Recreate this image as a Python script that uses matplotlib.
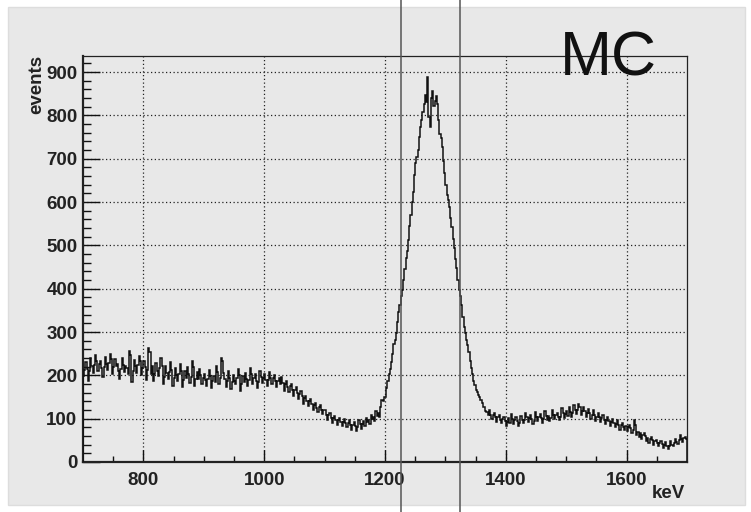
import numpy as np
import matplotlib
matplotlib.use("Agg")
import matplotlib.pyplot as plt
from matplotlib.patches import Rectangle
from matplotlib.lines import Line2D
import matplotlib.transforms as mtransforms

plt.rcParams['font.family'] = ['Liberation Sans', 'DejaVu Sans']

# histogram range, 2 keV bins
x_lo = 700
x_hi = 1700
bin_width = 2

# counts, 50 bins per 100 keV
counts_700 = [198, 212, 230, 214, 186, 210, 241, 221, 205, 223, 247, 233, 211, 227, 234, 218, 196, 220,
              243, 227, 213, 229, 250, 238, 204, 220, 237, 221, 226, 210, 191, 215, 239, 225, 208, 222,
              218, 202, 256, 247, 184, 210, 235, 221, 205, 223, 244, 232, 200, 218]
counts_800 = [232, 220, 190, 212, 262, 254, 203, 221, 186, 204, 228, 210, 198, 216, 239, 221, 180, 196,
              222, 206, 191, 207, 231, 213, 176, 194, 217, 201, 188, 204, 226, 210, 172, 190, 211, 195,
              220, 204, 183, 197, 233, 219, 176, 192, 207, 191, 214, 200, 181, 195]
counts_900 = [203, 189, 176, 192, 212, 198, 170, 186, 199, 185, 222, 208, 179, 193, 240, 232, 205, 191,
              174, 188, 209, 195, 168, 184, 201, 187, 181, 195, 214, 200, 165, 179, 198, 184, 206, 192,
              176, 190, 216, 202, 179, 193, 202, 188, 171, 185, 210, 196, 182, 194]
counts_1000 = [203, 189, 175, 189, 208, 194, 181, 195, 200, 186, 172, 186, 193, 179, 197, 183, 165, 179,
               188, 174, 161, 175, 181, 167, 153, 167, 173, 159, 146, 158, 164, 152, 135, 147, 153, 141,
               129, 141, 145, 133, 120, 132, 137, 125, 116, 128, 132, 120, 110, 120]
counts_1100 = [119, 109, 97, 109, 112, 102, 90, 102, 106, 96, 86, 98, 102, 92, 83, 93, 99, 89,
               80, 90, 96, 86, 75, 85, 92, 82, 71, 81, 97, 87, 77, 87, 94, 84, 102, 92,
               98, 88, 109, 99, 105, 95, 117, 107, 113, 103, 128, 144, 140, 150]
counts_1200 = [150, 170, 188, 204, 214, 230, 250, 272, 282, 298, 322, 346, 362, 382, 398, 420, 446, 470,
               488, 512, 545, 570, 600, 624, 662, 690, 704, 720, 750, 772, 790, 808, 826, 848, 830, 889,
               796, 772, 840, 856, 822, 834, 844, 826, 790, 756, 748, 728, 694, 668]
counts_1300 = [640, 616, 604, 588, 562, 542, 515, 495, 468, 448, 420, 396, 382, 362, 334, 312, 298, 282,
               270, 254, 234, 218, 202, 188, 178, 166, 162, 154, 150, 142, 137, 127, 126, 118, 116, 108,
               121, 109, 99, 109, 113, 103, 93, 103, 108, 96, 89, 99, 104, 94]
counts_1400 = [84, 92, 101, 91, 110, 100, 88, 96, 104, 94, 82, 90, 106, 96, 90, 98, 113, 103,
               93, 101, 109, 99, 87, 95, 116, 104, 95, 103, 111, 101, 91, 99, 118, 106, 97, 107,
               94, 102, 121, 109, 99, 109, 114, 104, 96, 104, 124, 112, 101, 111]
counts_1500 = [117, 107, 126, 116, 103, 113, 131, 121, 111, 121, 134, 126, 108, 118, 127, 117, 104, 114,
               123, 113, 99, 109, 119, 109, 95, 105, 113, 103, 92, 102, 108, 98, 87, 97, 104, 94,
               83, 93, 100, 90, 80, 88, 96, 86, 75, 85, 91, 81, 74, 82]
counts_1600 = [72, 80, 86, 78, 66, 74, 98, 86, 62, 70, 58, 66, 54, 62, 68, 60, 48, 56,
               45, 53, 58, 50, 40, 48, 51, 43, 37, 43, 49, 41, 33, 39, 46, 38, 31, 37,
               48, 40, 38, 44, 54, 46, 42, 50, 62, 54, 47, 55, 58, 52]

# window lines
window_keV = [1226, 1325]

x_ticks = [800, 1000, 1200, 1400, 1600]
y_ticks = [0, 100, 200, 300, 400, 500, 600, 700, 800, 900]

counts = np.array(counts_700 + counts_800 + counts_900 + counts_1000 + counts_1100
                  + counts_1200 + counts_1300 + counts_1400 + counts_1500 + counts_1600)
edges = np.linspace(x_lo, x_hi, len(counts) + 1)

bg = '#e8e8e8'
fig = plt.figure(figsize=(7.51, 5.12), dpi=100)
fig.patch.set_facecolor('white')
fig.add_artist(Rectangle((8 / 751, 7 / 512), 737 / 751, 498 / 512, transform=fig.transFigure,
                         facecolor=bg, edgecolor='#dddddd', lw=1, zorder=0))

ax = fig.add_axes([83 / 751, 50 / 512, 604 / 751, 406 / 512])
ax.set_facecolor(bg)
ax.stairs(counts, edges, color='#111111', lw=1.1, zorder=3)

ax.set_xlim(x_lo, x_hi)
ax.set_ylim(0, 937)
ax.set_xticks(x_ticks)
ax.set_yticks(y_ticks)
ax.set_xticks(np.arange(750, 1700, 50), minor=True)
ax.set_yticks(np.arange(0, 940, 20), minor=True)
ax.grid(True, which='major', color='#222222', linestyle=(0, (1, 2)), lw=0.9)

ax.tick_params(axis='both', which='both', direction='in', colors='#111111',
               top=False, right=False)
ax.tick_params(axis='x', which='major', length=9, width=1, pad=7)
ax.tick_params(axis='x', which='minor', length=4.5, width=1)
ax.tick_params(axis='y', which='major', length=12, width=1, pad=4)
ax.tick_params(axis='y', which='minor', length=6, width=1)
for lab in ax.get_xticklabels() + ax.get_yticklabels():
    lab.set_fontsize(13.5)
    lab.set_fontweight('bold')
    lab.set_color('#222222')

ax.spines['left'].set_linewidth(1.6)
ax.spines['bottom'].set_linewidth(1.6)
ax.spines['top'].set_linewidth(0.9)
ax.spines['right'].set_linewidth(0.9)
for sp in ax.spines.values():
    sp.set_color('#222222')

# vertical window lines across the whole canvas
trans = mtransforms.blended_transform_factory(ax.transData, fig.transFigure)
for xv in window_keV:
    fig.add_artist(Line2D([xv, xv], [0, 1], transform=trans, color='#555555', lw=1.1, zorder=5))

fig.text(37 / 751, 1 - 55 / 512, 'events', rotation=90, ha='center', va='top',
         fontsize=13.5, fontweight='bold', color='#222222')
fig.text(685 / 751, 1 - 494 / 512, 'keV', ha='right', va='center',
         fontsize=13.5, fontweight='bold', color='#222222')
fig.text(608 / 751, 1 - 59 / 512, 'MC', ha='center', va='center',
         fontsize=45, color='#111111', zorder=10)

fig.savefig('out.png', dpi=100, facecolor=fig.get_facecolor())
